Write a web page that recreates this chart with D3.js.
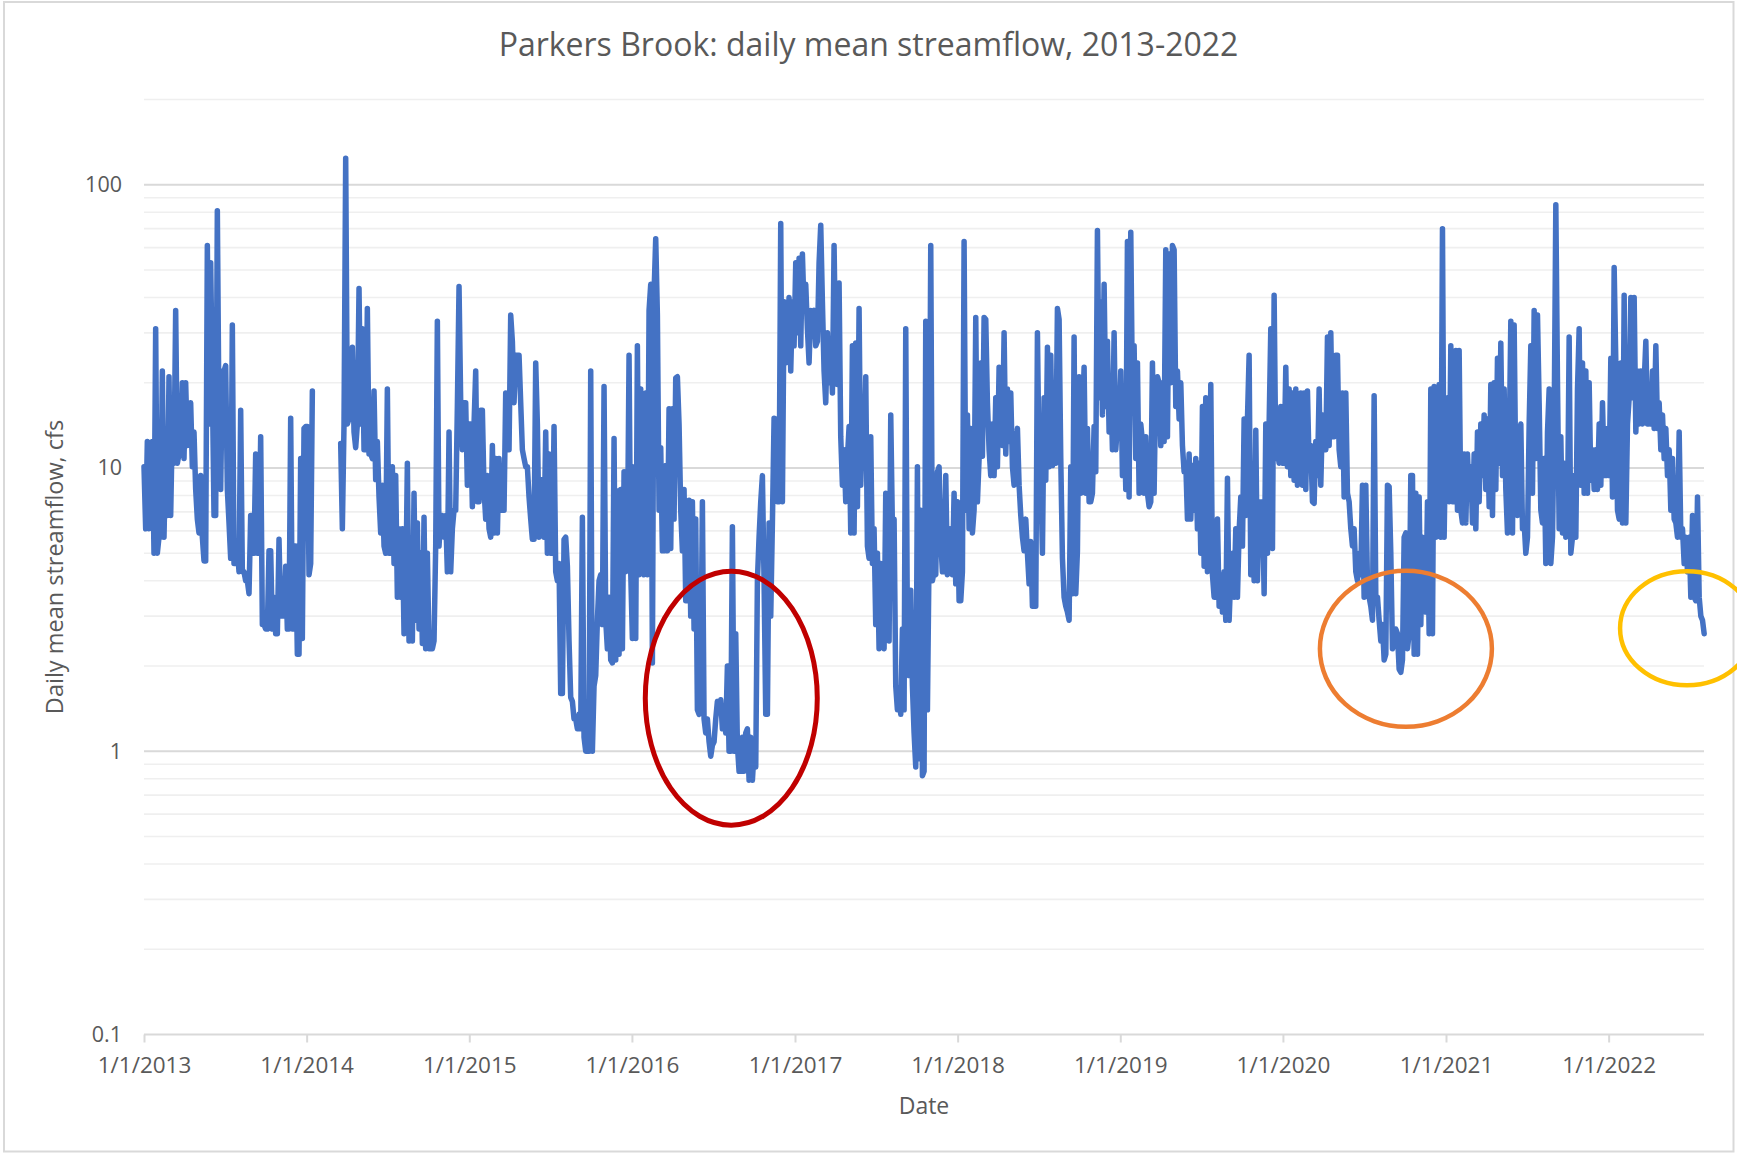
<!DOCTYPE html>
<html><head><meta charset="utf-8">
<script src="https://cdn.jsdelivr.net/npm/d3@7"></script>
<style>
body{margin:0;background:#fff}
svg{display:block}
text{font-family:"Open Sans","Noto Sans",sans-serif;fill:#595959}
</style>
</head><body>
<svg id="chart" width="1737" height="1153"></svg>
<script>
// ---------------- DATA ----------------
const chartTitle = "Parkers Brook: daily mean streamflow, 2013-2022";
const xTitle = "Date";
const yTitle = "Daily mean streamflow, cfs";
const yTickValues = [0.1, 1, 10, 100];
const yTickLabels = ["0.1", "1", "10", "100"];
const xTickYears = [2013, 2014, 2015, 2016, 2017, 2018, 2019, 2020, 2021, 2022];
const axisStart = "2013-01-01";
const axisEnd = "2022-08-03";
const yMin = 0.1, yMax = 200;
const sampleStepDays = 3.7408; // spacing of the values

// daily mean streamflow (cfs), consecutive samples
const flowSeg1 = [10.1,6.1,12.4,6.1,7.1,12.4,5.0,31,5.0,5.7,
5.7,22,5.7,11.6,6.8,21,6.8,14.3,10.4,36,
10.4,11.2,11.2,20,10.8,20,12,13.4,17,10.1,
13.4,8.4,6.6,5.9,9.4,5.7,4.7,4.7,61,14.3,
53,20,6.8,6.8,81,14.3,8.4,22,22,23,
8.4,6.4,4.8,32,4.6,4.6,5.3,4.3,16,4.3,
4.3,4.0,4.0,3.6,6.8,6.8,5.0,11.2,5.0,5.0,
12.9,2.8,2.8,2.7,2.7,5.1,5.1,2.7,3.5,2.6,
2.6,5.6,3.0,3.0,3.0,4.5,2.7,2.7,15,2.7,
2.7,5.3,2.2,2.2,10.8,2.5,13.8,14,14,4.2,
4.6,18.7,null,null,null,null,null,null,null,null,
null,null,null,null,null,null,null,null];
const flowSeg2 = [12.2,6.1,14.3,124,14.3,14.9,14.9,26.7,13.4,11.8,
14.3,43,14.3,31,11.6,11.6,36.6,11.2,11.2,10.8,
18.7,9.1,12.4,7.9,5.9,8.7,5.3,5.0,19,5.0,
5.0,10.1,4.6,9.4,3.5,6.1,3.5,6.1,2.6,3.5,
10.4,2.45,5.0,2.45,8.15,2.9,6.4,2.7,5.0,2.4,
6.7,2.3,5.0,2.3,2.3,2.3,2.45,5.3,33,5.3,
6.8,6.8,5.7,6.8,4.3,13.4,4.3,6.1,7.1,7.1,
16.5,43.7,17,11.6,17,17,8.7,14.3,14.3,7.3,
14.3,22,7.6,7.6,16,16,8.4,6.6,9.4,6.1,
5.7,12,5.9,10.8,5.9,10.8,7.1,7.1,7.1,18.4,
11.6,11.6,34.7,28,17,25,25,25,17,11.6,
10.8,10.1,10.1,7.9,6.6,5.6,5.6,23.5,14.3,5.7];
const flowSeg3 = [7.1,9.1,5.7,13.4,5.0,11.2,5.0,5.0,14,4.3,
4.0,4.6,1.6,1.6,5.6,5.7,4.5,2.45,1.55,1.5,
1.3,1.3,1.2,1.35,1.2,6.7,1.12,1.0,1.0,1.0,
22,1.0,1.7,1.85,2.9,4.0,4.2,2.8,19.4,2.9,
2.3,3.5,2.1,2.05,12.7,2.1,8.3,2.2,8.4,2.3,
9.7,4.3,5.0,25,4.3,2.5,10.1,2.5,27,4.2,
19,5.3,4.2,18.4,4.2,36,44.5,2.05,41.5,64.5,
34.7,7.1,11.8,5.1,5.1,10.2,5.1,16.2,5.2,16.2,
6.6,20.8,21,14.3,7.1,5.1,8.4,3.4,3.4,7.7,
3.0,7.6,2.7,6.6,1.4,1.35,1.7,7.6,1.3,1.16,
1.3,1.08,0.96,1.05,1.08,1.3,1.5,1.44,1.52,1.2,
1.44,1.16,2.0,1.0,1.0,6.2,1.0,2.6,1.05,0.85];
const flowSeg4 = [0.85,1.12,0.85,1.16,1.2,0.79,1.12,0.79,1.0,0.88,
4.0,5.7,7.6,9.4,4.0,1.35,1.35,6.4,3.0,6.4,
15,14.9,7.6,7.6,73,7.6,38.6,23.5,31,40,
22,38.6,27,53,30,55,27,57,36,44.5,
31,23.5,36,34.7,36,27,28,53,72,38.6,
22,17,30,20,27,18.4,61,23.5,19.7,45,
12.9,8.7,11.6,7.6,10.8,14,5.9,27,5.9,27.6,
7.3,36.6,8.7,14.3,10.8,21,5.3,4.8,12.9,4.6,
6.1,2.8,5.0,2.3,4.6,2.45,2.3,8.15,4.8,2.45,
15.4,6.1,6.6,1.7,1.4,1.66,1.35,2.7,1.4,31,
2.45,1.85,3.7,1.7,1.16,0.88,10.1,0.94,7.1,0.82,
0.85,33,1.4,5.0,61,4.0,4.3,4.2,9.7,10.1];
const flowSeg5 = [5.5,4.3,4.3,9.4,4.2,4.3,6.1,4.2,8.15,3.9,
7.6,3.4,3.4,4.3,63,7.1,15.4,6.1,13.8,5.9,
7.1,34,7.6,10.8,23.5,11,34,33.5,17,11.6,
9.4,14.3,9.4,17.7,10.1,22.7,12.9,12,30,11.2,
19,12.4,18.4,10.1,8.7,12.4,13.8,8.7,6.8,5.7,
5.1,6.6,5.0,3.9,5.5,3.25,3.25,3.25,30,10.1,
9.4,5.0,17.7,9.05,26.7,10.1,25,10.2,13.4,10.4,
36.6,33.5,10.8,4.8,3.5,3.25,3.1,2.9,10.1,3.6,
29,3.6,5.1,21,8.15,14.3,22.7,8.15,13.8,7.6,
7.6,8.15,14,9.7,69,17.7,38.6,15.4,44.5,16.5,
28,13.4,20,11.6,30,11.6,14.3,13.4,22,9.4,
16.5,8.4,63,7.9,68,17.7,27,10.8,23.5,8.15];
const flowSeg6 = [14.3,12.4,8.15,12.9,8.15,7.3,7.6,23.5,8.15,20,
21,20,12,20,12.4,59,12.9,57,20,61,
59,16.5,22,14.9,20,12,9.7,10.4,6.6,11.2,
6.6,10.2,7.1,10.8,6.1,10.4,5.0,16.5,4.5,17.7,
4.3,5.0,19.7,4.2,3.5,3.5,6.6,3.25,4.2,3.1,
4.3,2.9,9.2,2.9,4.2,5.0,3.5,6.1,3.5,6.0,
7.9,5.3,14.9,6.8,14.9,25,4.2,7.9,4.0,13.6,
4.0,7.6,5.0,7.6,3.6,14.3,5.0,14.3,31,5.2,
40.7,10.8,11.6,10.4,16.5,10.4,10.4,22.7,10.1,19,
9.4,18.4,9.05,19,8.7,9.05,18.4,8.7,18.4,8.4,
18.7,10.1,12,7.6,7.5,12.4,9.4,19,8.7,15.4,
13.4,11.6,29,12,30,12.9,12.9,25,25,11.6];
const flowSeg7 = [10.1,18.4,7.9,18.4,8.15,7.6,6.1,5.3,6.1,4.3,
4.0,5.0,4.2,8.7,3.5,8.7,3.9,3.5,3.25,2.9,
18,3.5,3.5,2.9,2.45,2.8,2.1,2.2,8.7,8.6,
5.0,2.3,2.4,2.7,2.6,1.95,1.9,2.1,5.7,5.9,
2.3,2.6,9.4,9.4,2.2,8.15,2.2,7.9,2.8,5.7,
5.5,3.1,7.6,2.6,19,2.6,19.4,5.7,14.9,19.7,
5.7,70,5.7,14.3,17.7,7.6,27,7.6,7.6,26,
7.1,26,7.1,6.4,11.2,6.4,11.2,7.9,10.1,6.4,
11.2,6.1,13.4,7.6,14.3,9.4,15.4,8.4,14.9,7.3,
19.7,6.8,20,8.4,24.4,10.4,27.6,9.4,19,8.4,
5.9,11.6,33,5.9,32,9.05,6.8,13.4,14.3,6.1,
6.4,5.0,5.7,14.3,27,8.15,36,10.8,34.7,17];
const flowSeg8 = [7.1,6.4,10.8,4.6,13.4,19,4.6,5.7,14.3,85,
20,6.1,12.9,5.9,10.4,5.7,6.6,29,5.0,5.7,
9.4,5.7,19,31,8.7,23.5,8.15,22,8.15,20,
9.05,11.6,8.4,11.6,8.4,14.3,8.7,17,9.4,9.4,
13.8,9.4,24.4,7.9,51,23.5,7.1,6.6,23.5,6.4,
40.7,6.4,14.3,17.7,40,17.7,40,13.4,22,14.3,
22,14.3,20,28,14.3,19.7,14.3,22,13.8,27,
13.8,17,11.6,15.4,10.8,13.8,9.4,11.6,7.1,10.8,
6.6,6.4,5.7,13.4,5.7,6.1,4.6,5.7,4.3,5.7,
3.5,6.8,3.5,3.4,7.9,3.5,3.0,2.9,2.6];

// annotation ellipses (centre in data units)
const noteDates = ["2016-08-11", "2020-10-03", "2022-06-26"];
const noteValues = [1.54, 2.3, 2.72];

// ---------------- DRAW ----------------
const W = 1737, H = 1153;
const plot = {left: 144, right: 1704, top: 99.5, bottom: 1034.5};
const parse = d3.timeParse("%Y-%m-%d");
const svg = d3.select("#chart");
const FONT = '"Open Sans","Noto Sans",sans-serif';

const x = d3.scaleTime().domain([parse(axisStart), parse(axisEnd)]).range([plot.left, plot.right]);
const y = d3.scaleLog().domain([yMin, yMax]).range([plot.bottom, plot.top]);

// chart border
svg.append("rect").attr("x", 4).attr("y", 2).attr("width", 1729.5).attr("height", 1149.5)
  .attr("fill", "#fff").attr("stroke", "#d9d9d9").attr("stroke-width", 2);

// gridlines
const minor = [];
[0.1, 1, 10].forEach(d => { for (let k = 2; k <= 9; k++) minor.push(+(k * d).toPrecision(3)); });
minor.push(yMax);
svg.append("g").selectAll("line").data(minor).join("line")
  .attr("x1", plot.left).attr("x2", plot.right)
  .attr("y1", d => y(d)).attr("y2", d => y(d))
  .attr("stroke", "#efefef").attr("stroke-width", 1.6);
svg.append("g").selectAll("line").data(yTickValues).join("line")
  .attr("x1", plot.left).attr("x2", plot.right)
  .attr("y1", d => y(d)).attr("y2", d => y(d))
  .attr("stroke", "#d9d9d9").attr("stroke-width", 2);

// x axis
const fmt = d3.timeFormat("%-m/%-d/%Y");
const xAxis = d3.axisBottom(x)
  .tickValues(xTickYears.map(yr => new Date(yr, 0, 1)))
  .tickFormat(fmt).tickSize(8).tickPadding(15);
const gx = svg.append("g").attr("transform", `translate(0,${plot.bottom})`).call(xAxis);
gx.select(".domain").remove();
gx.selectAll(".tick line").attr("stroke", "#d9d9d9").attr("stroke-width", 2);
gx.selectAll(".tick text").attr("font-size", 22.5).attr("fill", "#595959").style("font-family", FONT);

// y axis
const yAxis = d3.axisLeft(y).tickValues(yTickValues)
  .tickFormat((d, i) => yTickLabels[i]).tickSize(0).tickPadding(22);
const gy = svg.append("g").attr("transform", `translate(${plot.left},0)`).call(yAxis);
gy.select(".domain").remove();
gy.selectAll(".tick text").attr("font-size", 21.5).attr("fill", "#595959").style("font-family", FONT);

// series
const start = parse(axisStart);
const flow = [].concat(flowSeg1, flowSeg2, flowSeg3, flowSeg4, flowSeg5, flowSeg6, flowSeg7, flowSeg8);
const series = flow.map((v, i) => ({date: new Date(start.getTime() + i * sampleStepDays * 864e5), v}));
const line = d3.line().defined(d => d.v != null).x(d => x(d.date)).y(d => y(d.v));
svg.append("path").datum(series).attr("d", line)
  .attr("fill", "none").attr("stroke", "#4472C4").attr("stroke-width", 5.5)
  .attr("stroke-linejoin", "round").attr("stroke-linecap", "round");

// annotations
const noteStyle = [
  {rx: 86, ry: 127, color: "#C00000", w: 5},
  {rx: 86, ry: 78, color: "#ED7D31", w: 4.5},
  {rx: 67, ry: 57, color: "#FFC000", w: 4.5}
];
svg.append("g").selectAll("ellipse").data(noteDates).join("ellipse")
  .attr("cx", d => x(parse(d))).attr("cy", (d, i) => y(noteValues[i]))
  .attr("rx", (d, i) => noteStyle[i].rx).attr("ry", (d, i) => noteStyle[i].ry)
  .attr("fill", "none").attr("stroke", (d, i) => noteStyle[i].color)
  .attr("stroke-width", (d, i) => noteStyle[i].w);

// titles
svg.append("text").attr("x", 868.5).attr("y", 56).attr("text-anchor", "middle")
  .attr("font-size", 32).text(chartTitle);
svg.append("text").attr("x", (plot.left + plot.right) / 2).attr("y", 1114).attr("text-anchor", "middle")
  .attr("font-size", 23).text(xTitle);
svg.append("text").attr("transform", `translate(63,${(plot.top + plot.bottom) / 2}) rotate(-90)`)
  .attr("text-anchor", "middle").attr("font-size", 23.5).text(yTitle);
</script>
</body></html>
